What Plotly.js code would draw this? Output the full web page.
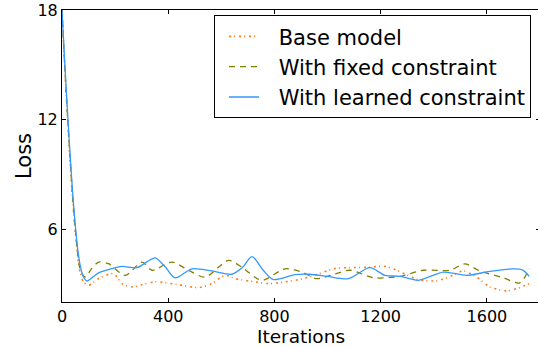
<!DOCTYPE html>
<html>
<head>
<meta charset="utf-8">
<script src="https://cdn.plot.ly/plotly-3.0.1.min.js"></script>
<style>html,body{margin:0;padding:0;overflow:hidden;background:#fff;}</style>
</head>
<body>
<div id="chart"></div>
<script>
// Base model
const baseIter = [0,10,20,30,40,50,60,70,81,100,140,194,226,263,300,351,439,514,564,614,652,727,777,840,909,960,1022,1078,1150,1216,1260,1342,1411,1473,1511,1561,1611,1674,1724,1759];
const baseLoss = [18,15,12.3,9.8,7.6,5.8,4.4,3.5,3.1,2.92,3.3,3.55,3.01,2.83,2.95,3.10,2.95,2.79,3.01,3.46,3.28,3.10,3.01,3.10,3.28,3.5,3.82,3.88,3.9,3.95,3.74,3.23,3.16,3.46,3.70,3.37,2.83,2.61,2.79,3.01];
// With fixed constraint
const fixedIter = [0,10,20,30,40,50,60,70,88,110,138,175,238,301,339,414,476,539,627,677,752,840,903,959,1020,1085,1172,1273,1360,1461,1517,1574,1661,1724,1759];
const fixedLoss = [18,15,12.4,10,7.8,6.0,4.6,3.7,3.37,3.8,4.19,4.10,3.46,4.19,3.74,4.19,3.74,3.37,4.28,3.91,3.19,3.82,3.64,3.28,3.5,3.74,3.33,3.41,3.74,3.74,4.09,3.70,3.33,3.05,3.82];
// With learned constraint
const learnedIter = [0,10,20,30,40,50,60,70,80,94,110,138,180,226,282,320,351,390,426,489,564,640,680,715,760,796,878,934,1000,1078,1160,1216,1273,1342,1436,1524,1611,1699,1735,1759];
const learnedLoss = [18,15.2,12.6,10.2,8.0,6.2,4.8,3.9,3.4,3.15,3.3,3.6,3.8,3.95,3.88,4.2,4.42,3.9,3.32,3.82,3.7,3.52,3.9,4.49,3.7,3.23,3.5,3.52,3.4,3.28,3.88,3.46,3.41,3.19,3.64,3.46,3.68,3.81,3.75,3.41];

const seriesNames = ["Base model","With fixed constraint","With learned constraint"];
const xTicks = [0,400,800,1200,1600];
const yTicks = [6,12,18];

const font = "DejaVu Sans, sans-serif";
const pad = "\u2002\u2009"; // gap between legend sample and label
const traces = [
  {x: baseIter, y: baseLoss, name: pad + seriesNames[0], mode: "lines",
   line: {color: "#ff7a1a", width: 1.6, dash: "2px,3px,1px,4px", shape: "spline", smoothing: 0.8}},
  {x: fixedIter, y: fixedLoss, name: pad + seriesNames[1], mode: "lines",
   line: {color: "#808000", width: 1.3, dash: "6px,5px", shape: "spline", smoothing: 0.8}},
  {x: learnedIter, y: learnedLoss, name: pad + seriesNames[2], mode: "lines",
   line: {color: "#3399ff", width: 1.3, shape: "spline", smoothing: 0.8}}
];
const axisCommon = {
  showline: true, linecolor: "#000", linewidth: 1, mirror: "ticks",
  ticks: "inside", ticklen: 4, tickcolor: "#000", tickwidth: 1,
  showgrid: false, zeroline: false,
  tickfont: {family: font, size: 16, color: "#000"}
};
const layout = {
  width: 548, height: 347,
  margin: {l: 62, r: 8, t: 10, b: 45},
  paper_bgcolor: "#fff", plot_bgcolor: "#fff",
  xaxis: Object.assign({}, axisCommon, {
    range: [0, 1800], tickvals: xTicks, ticktext: xTicks.map(String),
    title: {text: "Iterations", font: {family: font, size: 18.5, color: "#000"}, standoff: 7}
  }),
  yaxis: Object.assign({}, axisCommon, {
    range: [2, 18], tickvals: yTicks, ticktext: yTicks.map(String),
    title: {text: "Loss", font: {family: font, size: 21, color: "#000"}, standoff: 0}
  }),
  showlegend: true,
  legend: {x: 0.318, y: 0.982, xanchor: "left", yanchor: "top",
    bgcolor: "#fff", bordercolor: "#000", borderwidth: 1,
    itemwidth: 30, indentation: 9,
    font: {family: font, size: 21, color: "#000"}}
};
Plotly.newPlot("chart", traces, layout, {displayModeBar: false, staticPlot: true});
</script>
</body>
</html>
